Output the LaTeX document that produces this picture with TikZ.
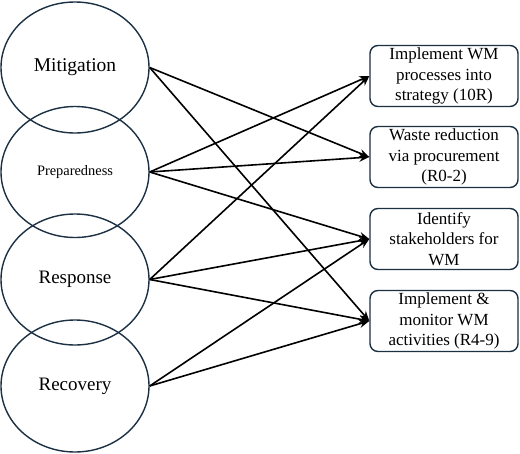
\documentclass[tikz,border=0pt]{standalone}
\usepackage{fontspec}
\setmainfont{LiberationSerif}[Extension=.ttf,UprightFont=*-Regular,BoldFont=*-Bold]
\usetikzlibrary{shapes.geometric,arrows.meta}
\definecolor{navy}{HTML}{1B3042}
\tikzset{
  phase/.style={draw=navy, line width=1.4pt, ellipse, minimum width=148pt, minimum height=131pt, inner sep=0pt},
  taskbox/.style={draw=navy, line width=1.4pt, rounded corners=8pt, minimum width=148pt, minimum height=61pt, inner sep=0pt, align=center, font=\fontsize{17}{20.5}\selectfont},
  link/.style={draw=black, line width=1.6pt, -{Stealth[length=10pt,width=8pt]}}
}
\begin{document}
\begin{tikzpicture}[x=1pt,y=-1pt]
\useasboundingbox (0,0) rectangle (520,453);
\node[phase, font=\fontsize{19.5}{22}\selectfont] (mit) at (75,67.5) {Mitigation};
\node[phase, font=\fontsize{14.4}{17}\selectfont] (pre) at (75,172) {Preparedness};
\node[phase, font=\fontsize{19}{22}\selectfont] (res) at (75,279.5) {Response};
\node[phase, font=\fontsize{19}{22}\selectfont, minimum height=132pt] (rec) at (75,386) {Recovery};
\node[taskbox] (b1) at (444,76) {Implement WM\\processes into\\strategy (10R)};
\node[taskbox] (b2) at (444,157) {Waste reduction\\via procurement\\(R0-2)};
\node[taskbox] (b3) at (444,239) {Identify\\stakeholders for\\WM};
\node[taskbox] (b4) at (444,321) {Implement \&\\monitor WM\\activities (R4-9)};
\draw[link] (mit.east) -- (b2.west);
\draw[link] (mit.east) -- (b4.west);
\draw[link] (pre.east) -- (b1.west);
\draw[link] (pre.east) -- (b2.west);
\draw[link] (pre.east) -- (b3.west);
\draw[link] (res.east) -- (b1.west);
\draw[link] (res.east) -- (b3.west);
\draw[link] (res.east) -- (b4.west);
\draw[link] (rec.east) -- (b3.west);
\draw[link] (rec.east) -- (b4.west);
\end{tikzpicture}
\end{document}
